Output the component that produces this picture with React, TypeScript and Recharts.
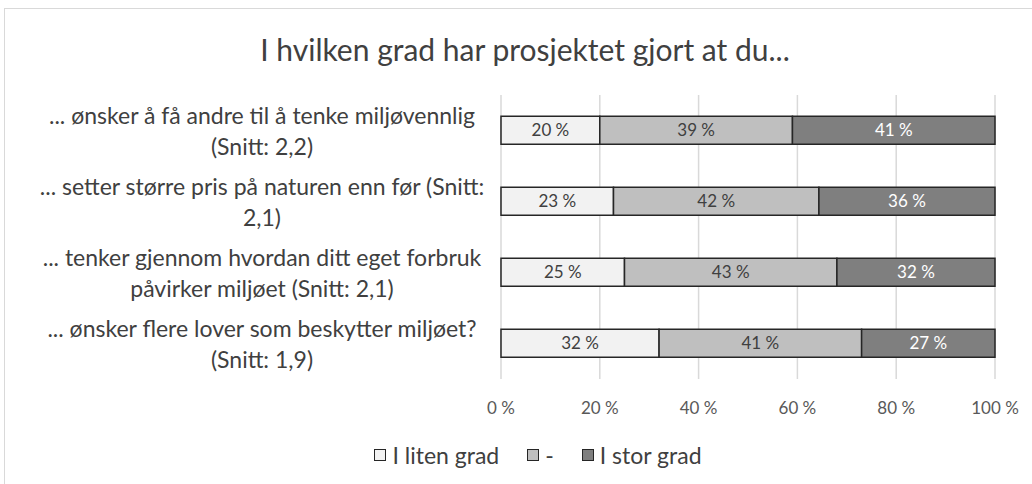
import React from "react";
import { BarChart, Bar, XAxis, YAxis, CartesianGrid, LabelList, Legend } from "recharts";

const categoryLines: string[][] = [
  ["... ønsker å få andre til å tenke miljøvennlig", "(Snitt: 2,2)"],
  ["... setter større pris på naturen enn før (Snitt:", "2,1)"],
  ["... tenker gjennom hvordan ditt eget forbruk", "påvirker miljøet (Snitt: 2,1)"],
  ["... ønsker flere lover som beskytter miljøet?", "(Snitt: 1,9)"],
];
const lowValues = [20, 23, 25, 32];
const midValues = [39, 42, 43, 41];
const highValues = [41, 36, 32, 27];
const xTicks = [0, 0.2, 0.4, 0.6, 0.8, 1];
const seriesNames = ["I liten grad", "-", "I stor grad"];
const seriesColors = ["#F2F2F2", "#BFBFBF", "#7F7F7F"];

const data = categoryLines.map((lines, i) => ({
  name: String(i),
  low: lowValues[i],
  mid: midValues[i],
  high: highValues[i],
}));

const FONT = "Lato, 'Open Sans', sans-serif";

const YTick = (props: any) => {
  const { y, payload } = props;
  const lines = categoryLines[Number(payload.value)];
  return (
    <g>
      {lines.map((l, k) => (
        <text
          key={k}
          x={262}
          y={y + (k - 0.5) * 31}
          textAnchor="middle"
          dominantBaseline="central"
          fontFamily={FONT}
          fontSize={23}
          fill="#404040"
        >
          {l}
        </text>
      ))}
    </g>
  );
};

const LegendContent = () => (
  <div style={{ display: "flex", justifyContent: "center", fontFamily: FONT, fontSize: 23, color: "#404040", lineHeight: "28px" }}>
    {seriesNames.map((n, i) => (
      <div key={i} style={{ display: "flex", alignItems: "center", marginLeft: i === 0 ? 0 : 28 }}>
        <div
          style={{
            width: 12,
            height: 12,
            background: seriesColors[i],
            border: "1.5px solid #262626",
            boxSizing: "border-box",
            marginRight: 6,
          }}
        />
        <span>{n}</span>
      </div>
    ))}
  </div>
);

const fmt = (v: any) => `${v} %`;

export default function App() {
  return (
    <div style={{ position: "absolute", left: 0, top: 0, width: 1032, height: 484, overflow: "hidden", background: "#fff" }}>
      <div
        style={{
          position: "absolute",
          left: 4,
          top: 8,
          width: 1040,
          height: 490,
          border: "1.5px solid #d9d9d9",
          boxSizing: "border-box",
        }}
      />
      <div
        style={{
          position: "absolute",
          left: 0,
          top: 31,
          width: 1050,
          textAlign: "center",
          fontFamily: FONT,
          fontSize: 30,
          lineHeight: "36px",
          color: "#404040",
        }}
      >
        I hvilken grad har prosjektet gjort at du...
      </div>
      <div style={{ position: "absolute", left: 0, top: 0 }}>
        <BarChart
          width={1032}
          height={484}
          data={data}
          layout="vertical"
          stackOffset="expand"
          barCategoryGap="30%"
          margin={{ top: 95, right: 37, bottom: 47, left: 5 }}
        >
          <CartesianGrid horizontal={false} vertical={true} stroke="#d9d9d9" strokeWidth={1.5} />
          <XAxis
            type="number"
            domain={[0, 1]}
            ticks={xTicks}
            tickFormatter={(v: number) => `${Math.round(v * 100)} %`}
            axisLine={false}
            tickLine={false}
            tick={{ fontFamily: FONT, fontSize: 17, fill: "#595959" }}
            tickMargin={17}
            height={30}
          />
          <YAxis
            type="category"
            dataKey="name"
            width={496}
            axisLine={false}
            tickLine={false}
            tick={<YTick />}
          />
          <Legend
            verticalAlign="bottom"
            content={<LegendContent />}
            wrapperStyle={{ position: "absolute", left: 0, top: 441, width: 1076 }}
          />
          <Bar dataKey="low" stackId="a" fill={seriesColors[0]} stroke="#262626" strokeWidth={1.5} isAnimationActive={false}>
            <LabelList dataKey="low" position="center" formatter={fmt} fill="#404040" fontFamily={FONT} fontSize={17} />
          </Bar>
          <Bar dataKey="mid" stackId="a" fill={seriesColors[1]} stroke="#262626" strokeWidth={1.5} isAnimationActive={false}>
            <LabelList dataKey="mid" position="center" formatter={fmt} fill="#404040" fontFamily={FONT} fontSize={17} />
          </Bar>
          <Bar dataKey="high" stackId="a" fill={seriesColors[2]} stroke="#262626" strokeWidth={1.5} isAnimationActive={false}>
            <LabelList dataKey="high" position="center" formatter={fmt} fill="#ffffff" fontFamily={FONT} fontSize={17} />
          </Bar>
        </BarChart>
      </div>
    </div>
  );
}
